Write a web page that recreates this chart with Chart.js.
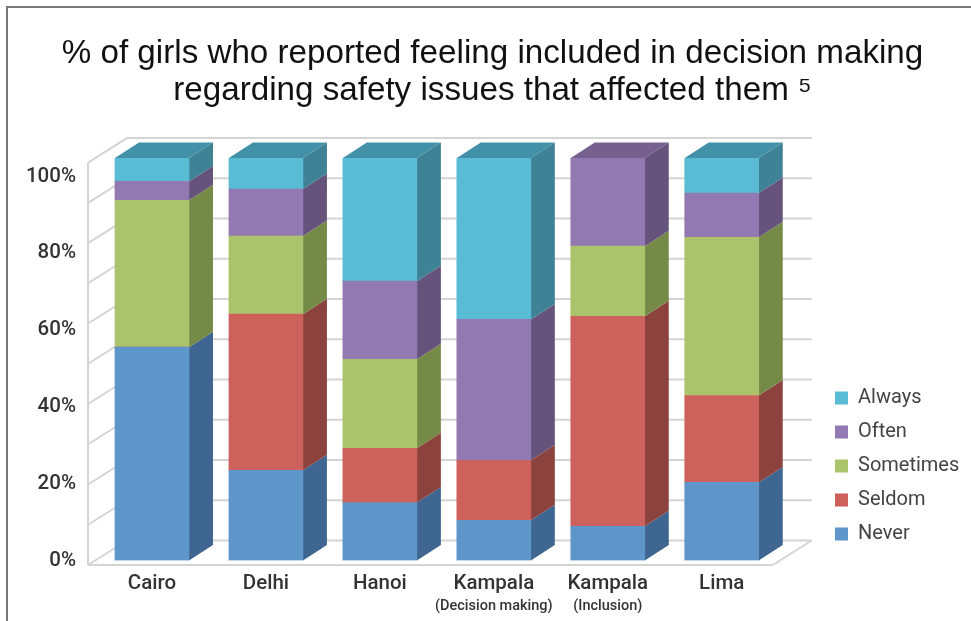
<!DOCTYPE html>
<html>
<head>
<meta charset="utf-8">
<title>Girls included in decision making</title>
<script src="https://cdn.jsdelivr.net/npm/chart.js@4"></script>
<style>
    html, body { margin: 0; padding: 0; background: #fff; overflow: hidden; }
    #frame { position: absolute; left: 6px; top: 6px; right: 0; bottom: 0; border-left: 2px solid #777; border-top: 2px solid #777; }
    #wrap { position: absolute; left: 0; top: 0; width: 971px; height: 621px; }
</style>
</head>
<body>
<div id="frame"></div>
<div id="wrap"><canvas id="chart" width="971" height="621"></canvas></div>
<script>
const categories = ['Cairo', 'Delhi', 'Hanoi', 'Kampala', 'Kampala', 'Lima'];
const subLabels = ['', '', '', '(Decision making)', '(Inclusion)', ''];
const yTickLabels = [0, 20, 40, 60, 80, 100];
const gridSteps = [0, 10, 20, 30, 40, 50, 60, 70, 80, 90, 100];

const never = [53, 22.4, 14.4, 10, 8.5, 19.4];
const seldom = [0, 38.8, 13.5, 14.9, 52.2, 21.6];
const sometimes = [36.5, 19.4, 22.1, 0, 17.4, 39.3];
const often = [4.7, 11.7, 19.4, 35, 21.9, 11];
const always = [5.8, 7.7, 30.6, 40.1, 0, 8.7];

const FONT = '"Liberation Sans", Arial, sans-serif';
const LABEL_FONT = 'Roboto, "Liberation Sans", sans-serif';
const GRID = '#d4d4d4';
const DEPTH_X = 24;
const DEPTH_Y = 15.5;

// front, side and top colours of the 3D bars
const shades = [
    { front: '#5f96ca', side: '#3f6690', top: '#3f6690' },
    { front: '#cd625d', side: '#8c433e', top: '#8c433e' },
    { front: '#abc46b', side: '#768a47', top: '#768a47' },
    { front: '#9379b2', side: '#65537b', top: '#75608f' },
    { front: '#5abbd4', side: '#3f8195', top: '#4291a8' }
];

function poly(ctx, pts, color) {
    ctx.fillStyle = color;
    ctx.beginPath();
    pts.forEach((p, i) => i ? ctx.lineTo(p[0], p[1]) : ctx.moveTo(p[0], p[1]));
    ctx.closePath();
    ctx.fill();
}

function line(ctx, x1, y1, x2, y2) {
    ctx.beginPath();
    ctx.moveTo(x1, y1);
    ctx.lineTo(x2, y2);
    ctx.stroke();
}

const box3d = {
    id: 'box3d',
    afterLayout(chart) {
        // legend sits right of the plot, move it where the reference has it
        const lg = chart.legend;
        const w = lg.width;
        lg.left = 821;
        lg.right = lg.left + w;
        lg.bottom = 558;
    },
    beforeDatasetsDraw(chart) {
        const ctx = chart.ctx;
        const y = chart.scales.y;
        const wallFront = 4.5, wallBack = -20;
        const left = chart.chartArea.left - 7;
        const floorRight = chart.chartArea.right - 6;
        ctx.save();
        ctx.strokeStyle = GRID;
        ctx.lineWidth = 2;
        // back wall lines and left wall diagonals
        gridSteps.forEach(v => {
            const py = y.getPixelForValue(v);
            line(ctx, left + 39, py + wallBack, floorRight + 39, py + wallBack);
            line(ctx, left, py + wallFront, left + 39, py + wallBack);
        });
        line(ctx, left, y.getPixelForValue(100) + wallFront, left, y.getPixelForValue(0) + wallFront);
        // floor
        const fy = y.getPixelForValue(0) + wallFront;
        line(ctx, left, fy, floorRight, fy);
        line(ctx, floorRight, fy, floorRight + 39, y.getPixelForValue(0) + wallBack);

        // side faces and caps of every bar
        chart.data.datasets.forEach((ds, i) => {
            chart.getDatasetMeta(i).data.forEach((bar, j) => {
                if (!ds.data[j]) return;
                const r = bar.x + bar.width / 2;
                const l = bar.x - bar.width / 2;
                poly(ctx, [[r, bar.base], [r + DEPTH_X, bar.base - DEPTH_Y], [r + DEPTH_X, bar.y - DEPTH_Y], [r, bar.y]], shades[i].side);
                const above = chart.data.datasets.slice(i + 1).some(d => d.data[j] > 0);
                if (!above) {
                    poly(ctx, [[l, bar.y], [l + DEPTH_X, bar.y - DEPTH_Y], [r + DEPTH_X, bar.y - DEPTH_Y], [r, bar.y]], shades[i].top);
                }
            });
        });
        ctx.restore();
    }
};

const seriesNames = ['Never', 'Seldom', 'Sometimes', 'Often', 'Always'];
const seriesValues = [never, seldom, sometimes, often, always];

new Chart(document.getElementById('chart'), {
    type: 'bar',
    data: {
        labels: categories,
        datasets: seriesNames.map((name, i) => ({
            label: name,
            data: seriesValues[i],
            backgroundColor: shades[i].front,
            borderWidth: 0,
            barThickness: 74,
            xAxisID: 'x',
            yAxisID: 'y'
        }))
    },
    plugins: [box3d],
    options: {
        responsive: false,
        animation: false,
        layout: { padding: { left: 14, right: 0, top: 0, bottom: 0 } },
        plugins: {
            tooltip: { enabled: false },
            title: {
                display: true,
                text: ['% of girls who reported feeling included in decision making', 'regarding safety issues that affected them \u2075'],
                color: '#111',
                font: { family: FONT, size: 33.2, weight: 'normal', lineHeight: 1.1 },
                padding: { top: 36, bottom: 49 }
            },
            legend: {
                position: 'right',
                align: 'end',
                reverse: true,
                labels: {
                    boxWidth: 13,
                    boxHeight: 13,
                    padding: 14,
                    color: '#444',
                    font: { family: LABEL_FONT, size: 20 }
                }
            }
        },
        scales: {
            x: {
                stacked: true,
                position: 'bottom',
                weight: 1,
                border: { display: false },
                grid: { display: false, drawTicks: false },
                ticks: { color: '#333', padding: 11, autoSkip: false, maxRotation: 0, font: { family: LABEL_FONT, size: 20.5, weight: 500 } },
                afterFit(s) { s.height = 34; }
            },
            x2: {
                type: 'category',
                labels: subLabels,
                position: 'bottom',
                weight: 2,
                border: { display: false },
                grid: { display: false, drawTicks: false },
                ticks: { color: '#333', padding: 3, autoSkip: false, maxRotation: 0, font: { family: LABEL_FONT, size: 14.5, weight: 500 } },
                afterFit(s) { s.height = 26.5; }
            },
            y: {
                stacked: true,
                display: false,
                min: 0,
                max: 100
            },
            yLabels: {
                position: 'left',
                min: 0,
                max: 104.82,
                border: { display: false },
                grid: { display: false, drawTicks: false },
                afterBuildTicks(s) { s.ticks = yTickLabels.map(v => ({ value: v })); },
                ticks: { color: '#333', padding: 19, font: { family: LABEL_FONT, size: 20.5, weight: 500 }, callback: v => v + '%' },
                afterFit(s) { s.width = 81; }
            },
            spacer: {
                position: 'right',
                display: true,
                border: { display: false },
                grid: { display: false, drawTicks: false },
                ticks: { display: false },
                afterFit(s) { s.width = 44; }
            }
        }
    }
});
</script>
</body>
</html>
